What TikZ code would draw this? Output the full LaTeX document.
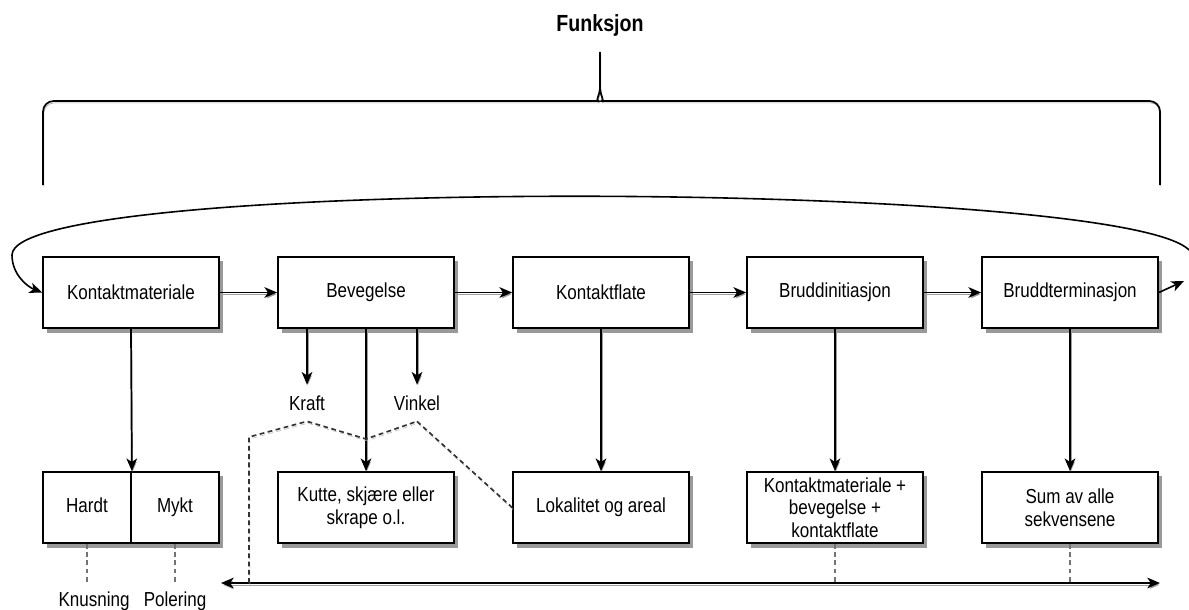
\documentclass[tikz,border=0pt]{standalone}
\usepackage{fontspec}
\setmainfont{Liberation Sans}[FakeStretch=0.84]
\usetikzlibrary{arrows.meta}

\newcommand\lblfont{\fontsize{15.2}{17}\selectfont}

\tikzset{
  tiphead/.tip={Stealth[length=9.5pt,width=8pt,inset=2.6pt]},
  tip/.style={-tiphead},
  shade line/.style={preaction={draw=black!38, transform canvas={xshift=0.6pt,yshift=-1.4pt}}},
  conn/.style={line width=1.3pt, tip, shade line},
  loopline/.style={line width=1.2pt, tip},
  bracel/.style={line width=1.3pt, shade line},
  box/.style={draw, line width=1.3pt, fill=white, minimum width=132pt, minimum height=53.25pt,
    inner sep=1pt, align=center, font=\lblfont},
  half/.style={box, minimum width=66pt, text height=2.0ex, text depth=0.5ex},
  lbl/.style={font=\lblfont, inner sep=8pt},
  dashA/.style={line width=1.25pt, black!80, dash pattern=on 3.6pt off 2.6pt,
    preaction={draw=black!30, dash pattern=on 3.6pt off 2.6pt, transform canvas={xshift=0.6pt,yshift=-1.4pt}}},
  dashB/.style={line width=1.2pt, black!55, dash pattern=on 3.6pt off 2.6pt},
  boxshade/.style={fill=black!40},
}

\begin{document}
\begin{tikzpicture}[x=0.75pt,y=-0.75pt]
\useasboundingbox (0,0) rectangle (1189,610);

% soft shadows under the boxes (drawn first, the boxes cover them)
\foreach \cx/\cy in {131/292.5,366/292.5,601/292.5,835/292.5,1070/292.5,
                     131/507.5,366/507.5,601/507.5,835/507.5,1070/507.5}
  \fill[boxshade] (\cx-84,\cy-31.5) rectangle (\cx+92,\cy+40);

% heading with its brace
\node[font=\bfseries\fontsize{17.5}{20}\selectfont] (fn) at (600,25) {Funksjon};
\coordinate (bl) at (43,185);
\coordinate (br) at (1160,185);
\coordinate (bt) at (600,52);
\draw[bracel] (bl) [rounded corners=8pt] |- (588,101) [sharp corners] to[out=0,in=-90] (600,88) -- (bt);
\draw[bracel] (br) [rounded corners=8pt] |- (612,101) [sharp corners] to[out=180,in=-90] (600,88);

% process steps
\node[box] (k1) at (131,292.5) {Kontaktmateriale};
\node[box] (k2) at (366,292.5) {Bevegelse};
\node[box] (k3) at (601,292.5) {Kontaktflate};
\node[box] (k4) at (835,292.5) {Bruddinitiasjon};
\node[box] (k5) at (1070,292.5) {Bruddterminasjon};

% descriptions
\node[half] (hardt) at (87,507.5) {Hardt};
\node[half] (mykt) at (175,507.5) {Mykt};
\node[box] (kutte) at (366,507.5) {Kutte, skjære eller\\skrape o.l.};
\node[box] (lok) at (601,507.5) {Lokalitet og areal};
\node[box] (kmb) at (835,507.5) {Kontaktmateriale +\\bevegelse +\\kontaktflate};
\node[box] (sum) at (1070,507.5) {Sum av alle\\sekvensene};

% free labels
\node[lbl] (kraft) at (307,403) {Kraft};
\node[lbl] (vinkel) at (417,403) {Vinkel};
\node[font=\lblfont, inner sep=1pt] (knus) at (94,601) {Knusning};
\node[font=\lblfont, inner sep=1pt] (pol) at (175,601) {Polering};

% sequence
\draw[conn] (k1) -- (k2);
\draw[conn] (k2) -- (k3);
\draw[conn] (k3) -- (k4);
\draw[conn] (k4) -- (k5);

% feedback loop
\coordinate (rx) at (1184,281);
\coordinate (ry) at (1189,250);
\draw[loopline] (k5.east) -- (rx);
\draw[loopline] (ry) .. controls (1120,180) and (12,175) .. (12,255)
  .. controls (12,275) and (28,287) .. (k1.west);

% downward links
\draw[conn] (k1.south) -- (hardt.north east);
\draw[conn] (k2.south) -- (kutte.north);
\draw[conn] (kraft |- k2.south) -- (kraft.north);
\draw[conn] (vinkel |- k2.south) -- (vinkel.north);
\draw[conn] (k3) -- (lok);
\draw[conn] (k4) -- (kmb);
\draw[conn] (k5) -- (sum);

% time axis
\coordinate (ta) at (221,583);
\coordinate (tb) at (1160,583);
\draw[conn, tiphead-tiphead] (ta) -- (tb);

% dashed relations
\coordinate (kd) at (249,437);
\coordinate (mid) at (366,439);
\draw[dashA] (kd |- ta) -- (kd) -- (kraft.south) -- (mid) -- (vinkel.south);
\draw[dashA] (vinkel.south) -- (lok.west);
\draw[dashB] (hardt.south) -- (hardt.south |- ta);
\draw[dashB] (mykt.south) -- (mykt.south |- ta);
\draw[dashB] (kmb.south) -- (kmb.south |- ta);
\draw[dashB] (sum.south) -- (sum.south |- ta);
\end{tikzpicture}
\end{document}
